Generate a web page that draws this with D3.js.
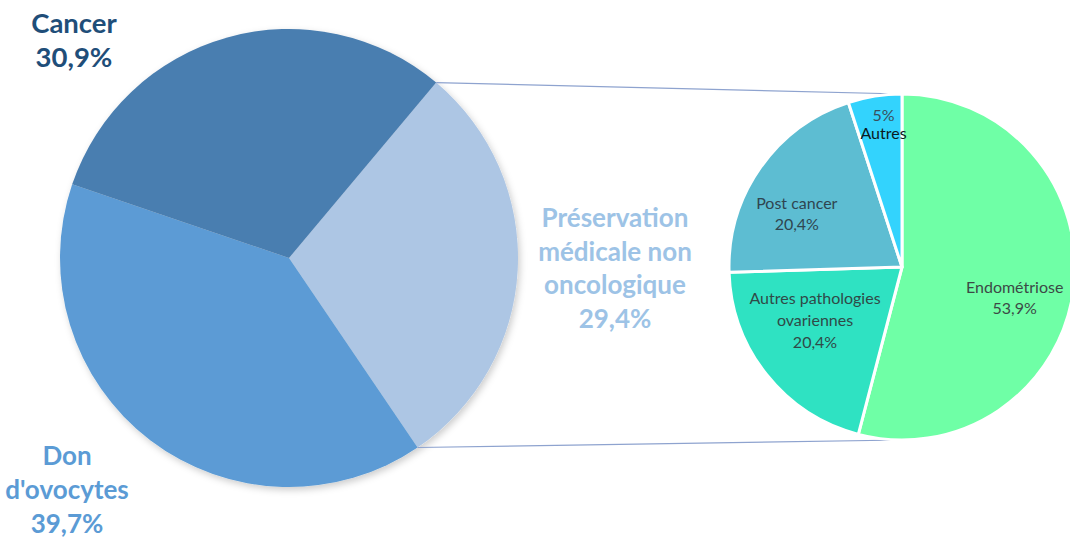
<!DOCTYPE html>
<html lang="fr">
<head>
<meta charset="utf-8">
<script src="https://cdn.jsdelivr.net/npm/d3@7"></script>
<style>
  html, body { margin: 0; padding: 0; background: #ffffff; }
  svg { display: block; }
</style>
</head>
<body>
<svg id="chart" width="1070" height="540"></svg>
<script>
// Main breakdown (outer pie)
const mainCategories = ["Préservation médicale non oncologique", "Don d'ovocytes", "Cancer"];
const mainValues = [29.4, 39.7, 30.9];
const mainLabelLines = [
  ["Préservation", "médicale non", "oncologique", "29,4%"],
  ["Don", "d'ovocytes", "39,7%"],
  ["Cancer", "30,9%"]
];

// Detail of the non-oncological medical preservation slice
const subCategories = ["Endométriose", "Autres pathologies ovariennes", "Post cancer", "Autres"];
const subValues = [53.9, 20.4, 20.4, 5];
const subLabelLines = [
  ["Endométriose", "53,9%"],
  ["Autres pathologies", "ovariennes", "20,4%"],
  ["Post cancer", "20,4%"],
  ["5%", "Autres"]
];

const svg = d3.select("#chart");
const deg = Math.PI / 180;

// ---- layout ----
const main = { cx: 289, cy: 258, r: 229, start: 40 * deg };
const sub = { cx: 902, cy: 267, r: 173 };

const mainColor = d3.scaleOrdinal().domain(mainCategories).range(["#adc6e4", "#5b9bd5", "#4a7eb0"]);
const mainTextColor = d3.scaleOrdinal().domain(mainCategories).range(["#9dc3e6", "#5b9bd5", "#1f4e79"]);
const subColor = d3.scaleOrdinal().domain(subCategories).range(["#6fffa6", "#2fe2c2", "#5dbdd2", "#33d3fd"]);

// soft shadow under the main pie
const defs = svg.append("defs");
const f = defs.append("filter").attr("id", "shadow")
  .attr("x", "-10%").attr("y", "-10%").attr("width", "120%").attr("height", "120%");
f.append("feDropShadow").attr("dx", 2).attr("dy", 3).attr("stdDeviation", 3.5)
  .attr("flood-color", "#000").attr("flood-opacity", 0.2);

// ---- main pie ----
const mainPie = d3.pie().sort(null)
  .startAngle(main.start).endAngle(main.start + 2 * Math.PI);
const mainArcs = mainPie(mainValues).map((a, i) => Object.assign(a, { key: mainCategories[i] }));
const mainArc = d3.arc().innerRadius(0).outerRadius(main.r);

const gMain = svg.append("g").attr("transform", `translate(${main.cx},${main.cy})`)
  .attr("filter", "url(#shadow)");
gMain.selectAll("path").data(mainArcs).join("path")
  .attr("d", mainArc)
  .attr("fill", d => mainColor(d.key));

// ---- secondary pie ----
const subPie = d3.pie().sort(null);
const subArcs = subPie(subValues).map((a, i) => Object.assign(a, { key: subCategories[i] }));
const subArc = d3.arc().innerRadius(0).outerRadius(sub.r);

// connector lines from the preservation slice to the detail pie
const pol = (c, r, a) => [c.cx + r * Math.sin(a), c.cy - r * Math.cos(a)];
const pres = mainArcs[0];
const connectors = [
  [pol(main, main.r, pres.startAngle), pol(sub, sub.r, subArcs[0].startAngle)],
  [pol(main, main.r, pres.endAngle), pol(sub, sub.r, Math.PI)]
];
svg.append("g").selectAll("line").data(connectors).join("line")
  .attr("x1", d => d[0][0]).attr("y1", d => d[0][1])
  .attr("x2", d => d[1][0]).attr("y2", d => d[1][1])
  .attr("stroke", "#8ea3cf").attr("stroke-width", 1.2);

const gSub = svg.append("g").attr("transform", `translate(${sub.cx},${sub.cy})`);
gSub.selectAll("path").data(subArcs).join("path")
  .attr("d", subArc)
  .attr("fill", d => subColor(d.key))
  .attr("stroke", "#ffffff").attr("stroke-width", 3).attr("stroke-linejoin", "round");

// ---- labels ----
const mainLabelPos = [
  { x: 615, y: 227, lh: 33.5, size: 26 },
  { x: 67, y: 465, lh: 34, size: 26 },
  { x: 74, y: 33, lh: 34, size: 27.5 }
];
const gMainLabels = svg.append("g")
  .attr("font-family", "Lato, 'Open Sans', sans-serif")
  .attr("font-weight", 700).attr("text-anchor", "middle");
mainArcs.forEach((a, i) => {
  const p = mainLabelPos[i];
  const t = gMainLabels.append("text").attr("fill", mainTextColor(a.key)).attr("font-size", p.size);
  mainLabelLines[i].forEach((line, j) => {
    t.append("tspan").attr("x", p.x).attr("y", p.y + j * p.lh).text(line);
  });
});

// detail labels: anchored on slice centroids, with per-slice nudges
const labelArc = d3.arc().innerRadius(sub.r * 0.68).outerRadius(sub.r * 0.68);
const subLabelNudge = [
  { dx: -4, dy: 17, lh: 21, colors: ["#3c4a46", "#3c4a46"] },
  { dx: 5, dy: -19, lh: 22, colors: ["#304a48", "#304a48", "#304a48"] },
  { dx: -9, dy: 15, lh: 21, colors: ["#2f4550", "#2f4550"] },
  { dx: 0, dy: -26, lh: 18, colors: ["#3a4f5c", "#0b1a22"] }
];
const gSubLabels = svg.append("g").attr("transform", `translate(${sub.cx},${sub.cy})`)
  .attr("font-family", "Lato, 'Open Sans', sans-serif")
  .attr("font-size", 16).attr("text-anchor", "middle");
subArcs.forEach((a, i) => {
  const [cx, cy] = labelArc.centroid(a);
  const n = subLabelNudge[i];
  const lines = subLabelLines[i];
  const top = cy + n.dy - (lines.length - 1) * n.lh / 2 + 5;
  lines.forEach((line, j) => {
    gSubLabels.append("text")
      .attr("x", cx + n.dx).attr("y", top + j * n.lh)
      .attr("fill", n.colors[j])
      .text(line);
  });
});
</script>
</body>
</html>
